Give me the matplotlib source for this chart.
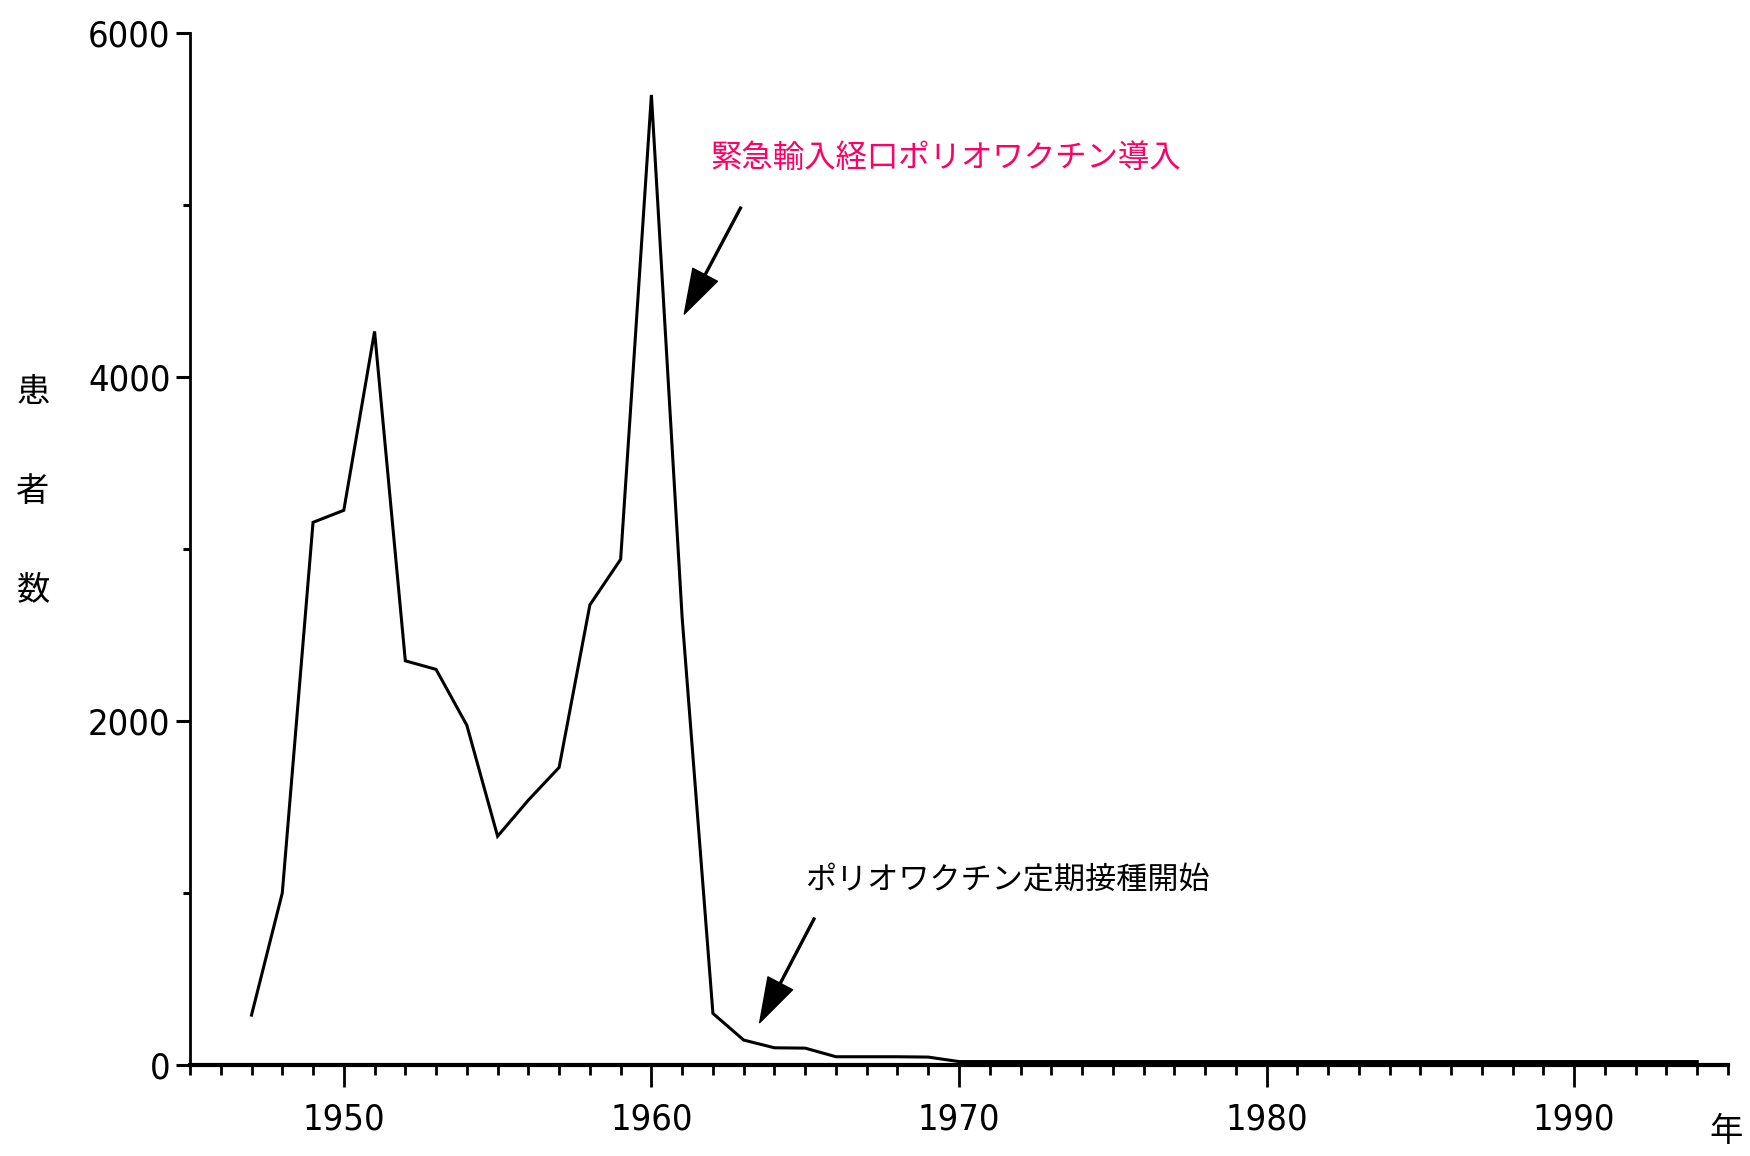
import matplotlib
matplotlib.use('Agg')
import matplotlib.pyplot as plt
from matplotlib import font_manager
from matplotlib.ticker import FixedLocator, MultipleLocator

# ---- data ----
years = list(range(1947, 1995))
cases = [290, 1000, 3155, 3225, 4265, 2350, 2300, 1975, 1330, 1540,
         1730, 2675, 2940, 5640, 2600, 300, 145, 100, 98, 48,
         48, 48, 46, 20, 20, 20, 20, 20, 20, 20,
         20, 20, 20, 20, 20, 20, 20, 20, 20, 20,
         20, 20, 20, 20, 20, 20, 20, 20]
x_major = [1950, 1960, 1970, 1980, 1990]
y_major = [0, 2000, 4000, 6000]
y_minor = [1000, 3000, 5000]
ylabel_chars = ['患', '者', '数']
xlabel_text = '年'
note_oral = '緊急輸入経口ポリオワクチン導入'
note_routine = 'ポリオワクチン定期接種開始'
arrow_oral = ((1961.07, 4366), (1962.91, 4987))       # (tip, tail)
arrow_routine = ((1963.52, 246), (1965.30, 854))

CJK = ['Noto Sans CJK JP', 'DejaVu Sans']

# pick a narrow font for the digits if available
names = {f.name for f in font_manager.fontManager.ttflist}
if 'Liberation Sans Narrow' in names:
    num_font = dict(family='Liberation Sans Narrow', size=31)
else:
    num_font = dict(family='DejaVu Sans', stretch='condensed', size=26)

W, H = 1750, 1156
fig = plt.figure(figsize=(W / 100, H / 100), dpi=100)
fig.patch.set_facecolor('white')
L, R, T, B = 190, 1728, 33, 1065
ax = fig.add_axes([L / W, (H - B) / H, (R - L) / W, (B - T) / H])

ax.plot(years, cases, color='black', lw=2.2, solid_joinstyle='miter', zorder=3)

ax.set_xlim(1945, 1995)
ax.set_ylim(0, 6000)
ax.xaxis.set_major_locator(FixedLocator(x_major))
ax.xaxis.set_minor_locator(MultipleLocator(1))
ax.yaxis.set_major_locator(FixedLocator(y_major))
ax.yaxis.set_minor_locator(FixedLocator(y_minor))

for s in ['top', 'right']:
    ax.spines[s].set_visible(False)
ax.spines['left'].set_linewidth(2.0)
ax.spines['bottom'].set_linewidth(3.0)

ax.tick_params(axis='x', which='major', length=16, width=2, pad=11, direction='out')
ax.tick_params(axis='x', which='minor', length=7.5, width=2, direction='out')
ax.tick_params(axis='y', which='major', length=10, width=2.2, pad=4, direction='out')
ax.tick_params(axis='y', which='minor', length=5, width=2.2, direction='out')

for lab in ax.get_xticklabels() + ax.get_yticklabels():
    lab.set_fontfamily(num_font['family'])
    lab.set_fontsize(num_font['size'])
    if 'stretch' in num_font:
        lab.set_fontstretch(num_font['stretch'])

# y label, stacked characters
for ch, yc in zip(ylabel_chars, [392, 491, 590]):
    fig.text(33 / W, 1 - yc / H, ch, family=CJK, fontsize=24,
             ha='center', va='center')

# x unit label
fig.text(1726 / W, 1 - 1131 / H, xlabel_text, family=CJK, fontsize=24,
         ha='center', va='center')

# annotations
fig.text(710 / W, 1 - 158 / H, note_oral, family=CJK, fontsize=22.6,
         color='#FF0066', ha='left', va='center')
fig.text(805 / W, 1 - 881 / H, note_routine, family=CJK, fontsize=22.4,
         color='black', ha='left', va='center')

for tip, tail in [arrow_oral, arrow_routine]:
    ax.annotate('', xy=tip, xytext=tail, xycoords='data', textcoords='data',
                arrowprops=dict(width=1.4, headwidth=20, headlength=32,
                                facecolor='black', edgecolor='black', shrink=0))

fig.savefig('out.png', dpi=100, facecolor='white')
